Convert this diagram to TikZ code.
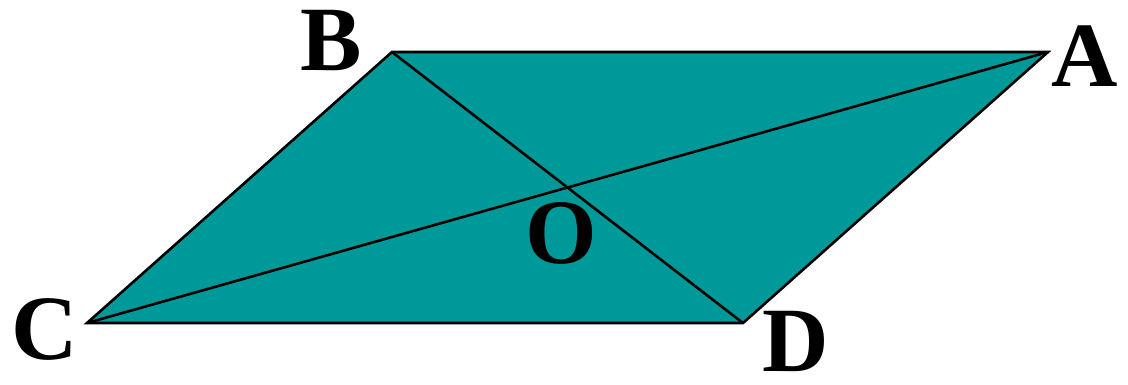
\documentclass[tikz,border=0pt]{standalone}
\usepackage{fontspec}
\setmainfont{Liberation Serif}
\definecolor{tealfill}{HTML}{009999}
\begin{document}
\begin{tikzpicture}[x=1pt,y=-1pt,
  edge/.style={draw=black,line width=2.6pt,line join=miter},
  lbl/.style={inner sep=0pt,font=\fontsize{92}{92}\selectfont\bfseries}]
\useasboundingbox (0,0) rectangle (1128,384);
\coordinate (B) at (392,52);
\coordinate (A) at (1048,52);
\coordinate (D) at (743,323);
\coordinate (C) at (87,323);
\fill[tealfill] (B) -- (A) -- (D) -- (C) -- cycle;
\draw[edge] (B) -- (A) -- (D) -- (C) -- cycle;
\draw[edge] (B) -- (D);
\draw[edge] (A) -- (C);
\node[lbl] (lB) at (331,41) {B};
\node[lbl] (lA) at (1085,56) {A};
\node[lbl] (lC) at (45,329) {C};
\node[lbl] (lD) at (796,341) {D};
\node[lbl] (lO) at (561,233) {O};
\end{tikzpicture}
\end{document}
